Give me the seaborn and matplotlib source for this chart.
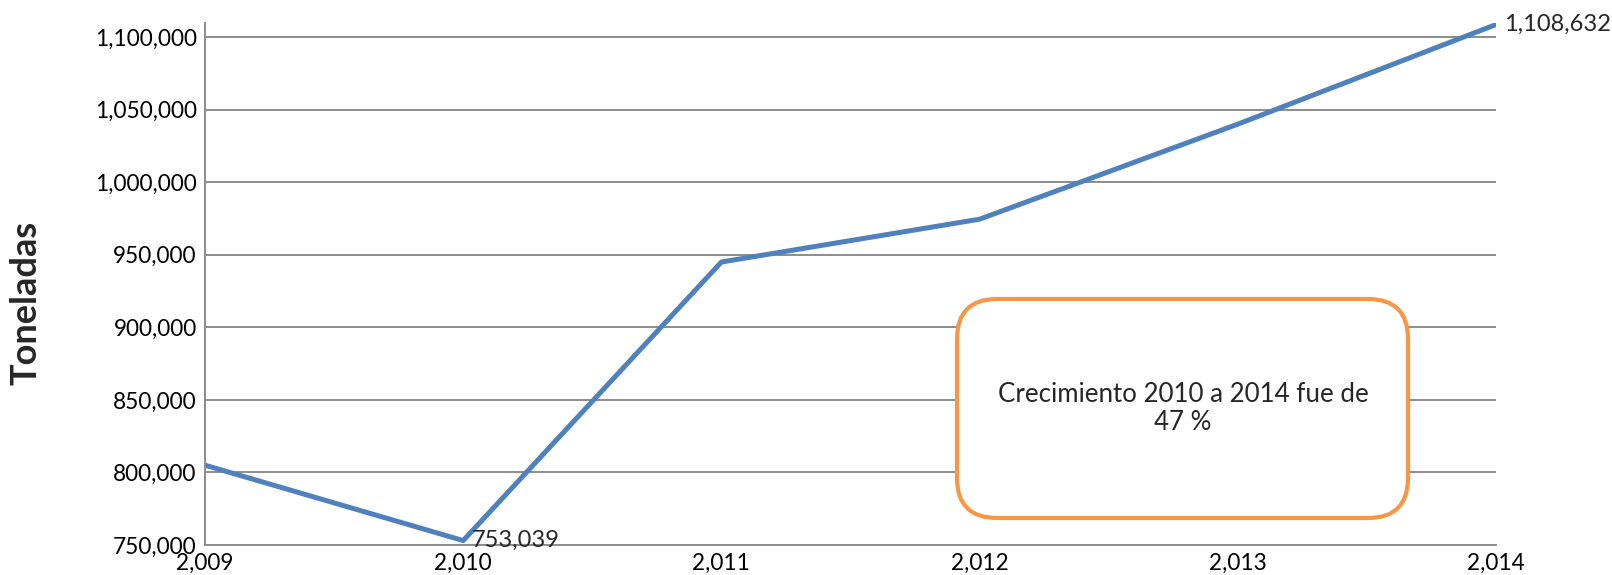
import pandas as pd
import seaborn as sns
import matplotlib.pyplot as plt
from matplotlib.patches import FancyBboxPatch
from matplotlib.ticker import FuncFormatter

# Data
years = [2009, 2010, 2011, 2012, 2013, 2014]
tons = [805000, 753039, 945000, 974500, 1040000, 1108632]
y_ticks = [750000, 800000, 850000, 900000, 950000, 1000000, 1050000, 1100000]

df = pd.DataFrame({"Year": years, "Toneladas": tons})

sns.set_style("white")
plt.rcParams['font.family'] = ['Lato', 'DejaVu Sans']

fig = plt.figure(figsize=(16.12, 5.75), dpi=100)
ax = fig.add_axes([205 / 1612, 1 - 545 / 575, (1496 - 205) / 1612, (545 - 23) / 575])

sns.lineplot(data=df, x="Year", y="Toneladas", color="#4F81BD", linewidth=3.6, ax=ax)

ax.set_xlim(2009, 2014)
ax.set_ylim(750000, 1109700)
ax.set_yticks(y_ticks)
ax.set_xticks(years)
fmt = FuncFormatter(lambda v, p: f"{int(v):,}")
ax.xaxis.set_major_formatter(fmt)
ax.yaxis.set_major_formatter(fmt)
ax.tick_params(axis="both", length=0, labelsize=16.3, colors="black")
ax.tick_params(axis="y", pad=6)
ax.tick_params(axis="x", pad=5.5)

ax.grid(axis="y", color="#8c8c8c", linewidth=1.4)
ax.grid(axis="x", visible=False)
for side in ["top", "right"]:
    ax.spines[side].set_visible(False)
for side in ["left", "bottom"]:
    ax.spines[side].set_color("#8c8c8c")
    ax.spines[side].set_linewidth(1.4)

ax.set_xlabel("")
ax.set_ylabel("Toneladas", fontsize=26, fontweight="bold")
ax.yaxis.set_label_coords(-0.126, 0.464)

# data labels
for i in [1, 5]:
    ax.annotate(f"{tons[i]:,}", (years[i], tons[i]), xytext=(6, 0),
                textcoords="offset points", ha="left", va="center", fontsize=17)

# annotation box
W, H = 1612, 575
box = FancyBboxPatch((957 / W, 1 - 518 / H), (1408 - 957) / W, (518 - 299) / H,
                     boxstyle=f"round,pad=0,rounding_size={40 / W}",
                     mutation_aspect=W / H, transform=fig.transFigure,
                     facecolor="white", edgecolor="#F79646", linewidth=3)
fig.patches.append(box)
fig.text(1183 / W, 1 - 409 / H, "Crecimiento 2010 a 2014 fue de\n47 %",
         ha="center", va="center", fontsize=18.6, linespacing=1.15)

fig.savefig("out.png", dpi=100)
